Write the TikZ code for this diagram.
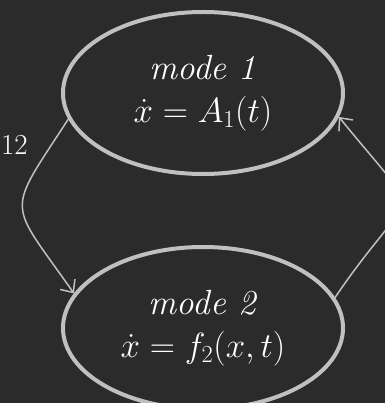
\RequirePackage{fix-cm}
\documentclass[tikz,border=0pt]{standalone}
\usepackage{amsmath, amssymb}
\usepackage{tikz}
\usetikzlibrary{shapes.geometric, arrows.meta}
\definecolor{board}{RGB}{43,43,43}
\definecolor{chalk}{RGB}{192,192,192}

\begin{document}
\begin{tikzpicture}[x=1pt, y=-1pt,
    mode/.style={ellipse, draw=chalk, line width=4pt, minimum width=280pt,
      minimum height=162pt, inner sep=0pt, text=white, align=center,
      font=\fontsize{35}{43}\selectfont},
    link/.style={draw=chalk, line width=1.5pt,
      -{Straight Barb[length=10pt, width=18pt]}}]
  % chalkboard
  \fill[board] (0,0) rectangle (385,403);
  \useasboundingbox (0,0) rectangle (385,403);
  \clip (0,0) rectangle (385,403);
  \node[mode] (m1) at (203,93) {\textit{mode 1}\\$\dot{x} = A_1(t)$};
  \node[mode] (m2) at (203,328) {\textit{mode 2}\\$\dot{x} = f_2(x,t)$};
  \node[text=white, anchor=east, inner sep=0pt, font=\fontsize{29}{29}\selectfont] (t12) at (28,145) {12};
  \draw[link] (m1.191) to[out=237, in=125, looseness=1.7] (m2.165);
  \draw[link] (m2.13) to[out=56, in=309, looseness=2] (m1.350);
\end{tikzpicture}
\end{document}
